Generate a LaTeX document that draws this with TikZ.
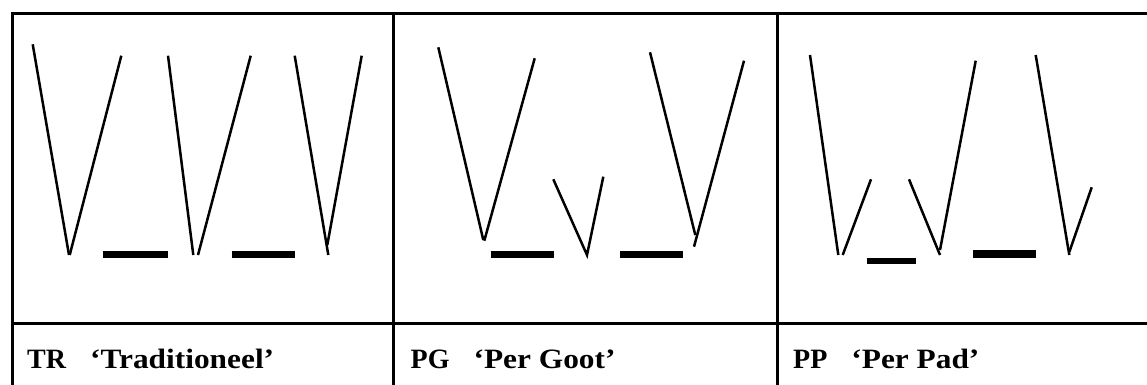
\documentclass[tikz,border=0pt]{standalone}
\usepackage{fontspec}
\setmainfont{Liberation Serif}
\newfontfamily\widefont[FakeStretch=1.12]{Liberation Serif}
\begin{document}
\begin{tikzpicture}[x=1pt,y=-1pt,
  frame/.style={line width=3pt},
  stroke/.style={line width=2.5pt},
  bar/.style={line width=7.5pt},
  thinbar/.style={line width=5.7pt},
  lbl/.style={anchor=base west,inner sep=0pt,font=\fontsize{28}{32}\selectfont\bfseries}]
\useasboundingbox (0,0) rectangle (1147,385);
% table frame
\draw[frame] (12,385) -- (12,14) -- (1147,14);
\draw[frame] (12,323) -- (1147,323);
\draw[frame] (393.5,14) -- (393.5,385);
\draw[frame] (777.5,14) -- (777.5,385);
% labels
\node[lbl] (tr) at (27,368) {TR\hspace{24pt}{\widefont\bfseries ‘Traditioneel’}};
\node[lbl] (pg) at (410.5,368) {PG\hspace{24pt}{\widefont\bfseries ‘Per Goot’}};
\node[lbl] (pp) at (793,368) {PP\hspace{24pt}{\widefont\bfseries ‘Per Pad’}};
% panel TR
\draw[stroke] (32.7,44.3) -- (69,255);
\draw[stroke] (69.7,255) -- (121.3,55.7);
\draw[bar] (102.7,254.5) -- (168.3,254.5);
\draw[stroke] (168,55.7) -- (193.3,255);
\draw[stroke] (198,255) -- (250.7,55.7);
\draw[bar] (231.7,254.5) -- (295,254.5);
\draw[stroke] (294.7,55.7) -- (328.3,255);
\draw[stroke] (327.3,245) -- (361.7,55.7);
% panel PG
\draw[stroke] (438.3,47.3) -- (483.3,240);
\draw[stroke] (484.3,240.7) -- (534.7,58.3);
\draw[bar] (490.7,254.5) -- (553.7,254.5);
\draw[stroke] (553.3,179.3) -- (587,255) -- (603.3,176.7);
\draw[bar] (620,254.5) -- (683.3,254.5);
\draw[stroke] (650,52.3) -- (695.3,235);
\draw[stroke] (694,246.7) -- (744,60.7);
% panel PP
\draw[stroke] (810,55) -- (838.3,255);
\draw[stroke] (842.7,255) -- (871,179.3);
\draw[thinbar] (866.7,261.2) -- (916,261.2);
\draw[stroke] (909,179.3) -- (940,255);
\draw[stroke] (940,250) -- (975.7,60.7);
\draw[bar] (972.7,254.2) -- (1036,254.2);
\draw[stroke] (1035.7,55) -- (1069.3,255);
\draw[stroke] (1069.3,252) -- (1091.7,187.3);
\end{tikzpicture}
\end{document}
